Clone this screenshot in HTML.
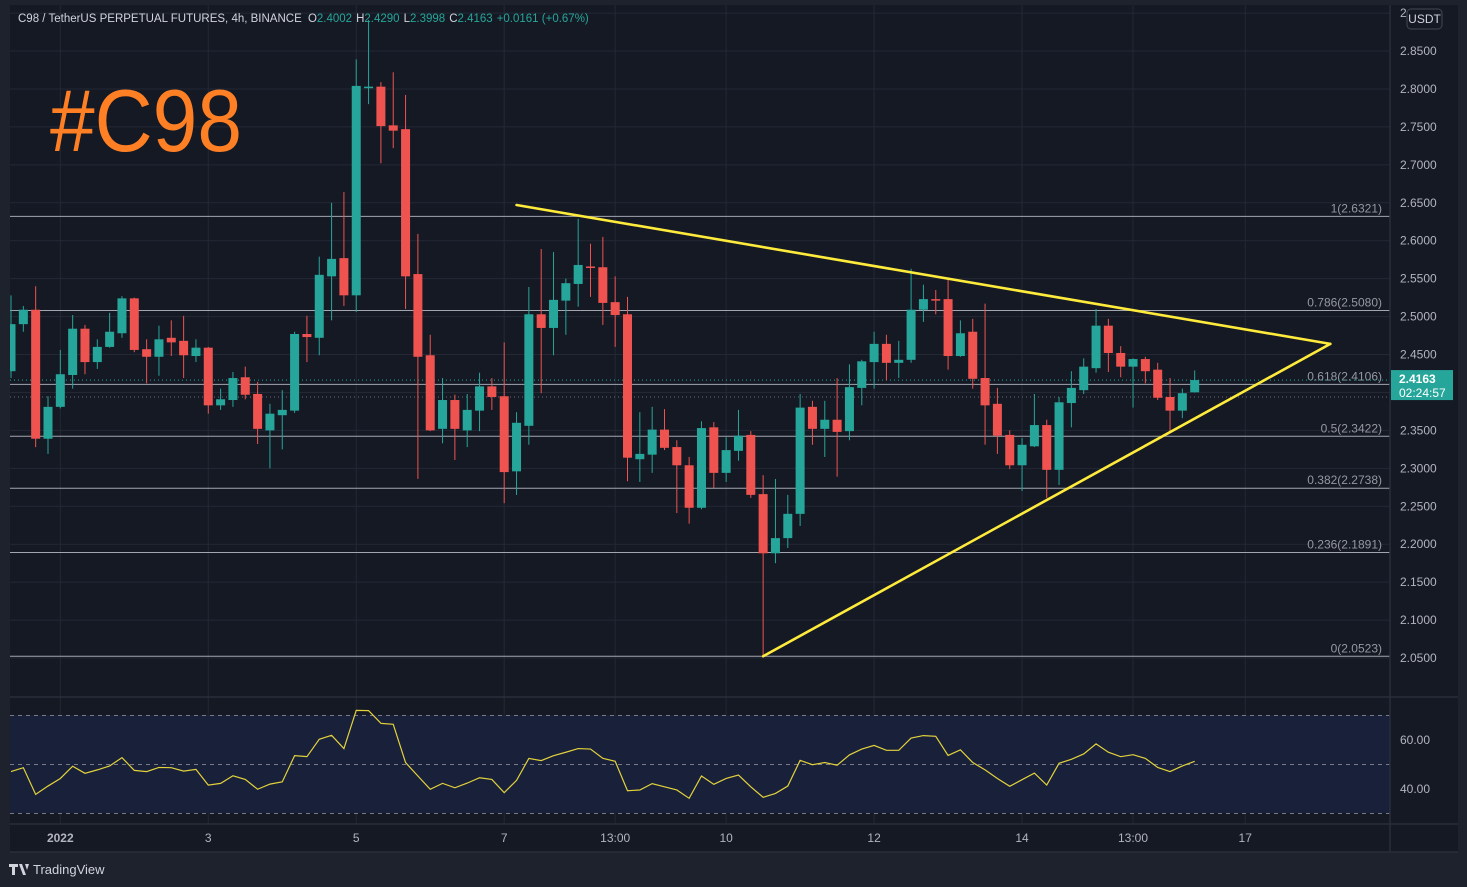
<!DOCTYPE html>
<html><head><meta charset="utf-8"><style>
html,body{margin:0;padding:0;background:#1e222d;}
svg{display:block;font-family:"Liberation Sans",sans-serif;}
</style></head><body>
<svg id="chart" width="1467" height="887" viewBox="0 0 1467 887" xmlns="http://www.w3.org/2000/svg">
<rect x="0" y="0" width="1467" height="887" fill="#1e222d"/>
<rect x="10" y="5" width="1448" height="847" fill="#151924"/>
<g id="grid"></g>
<rect x="10" y="715" width="1380" height="98" fill="#18203a"/>
<g id="fibs"></g>
<g id="candles"></g>
<g id="trend"></g>
<g id="rsi"></g>
<g id="axes"></g>
<text x="50" y="151" font-size="88" fill="#ff8024" textLength="192" lengthAdjust="spacingAndGlyphs">#C98</text>
<text x="18" y="22" font-size="11.5" fill="#d1d4dc">C98 / TetherUS PERPETUAL FUTURES, 4h, BINANCE <tspan dx="3">O</tspan><tspan fill="#26a69a">2.4002</tspan><tspan dx="4">H</tspan><tspan fill="#26a69a">2.4290</tspan><tspan dx="4">L</tspan><tspan fill="#26a69a">2.3998</tspan><tspan dx="4">C</tspan><tspan fill="#26a69a">2.4163</tspan><tspan dx="4" fill="#26a69a">+0.0161 (+0.67%)</tspan></text>
<g>
<path d="M9 864 h9 v3 h-3 v8 h-3 v-8 h-3 z M19 864 h3 l4 11 h-3 z M25 864 h4 l-2 6 z" fill="#d1d4dc"/>
<text x="33" y="874" font-size="13" fill="#d1d4dc">TradingView</text></g>
</svg>
<script>
const opens  = [2.428,2.490,2.509,2.339,2.381,2.423,2.484,2.440,2.460,2.478,2.524,2.457,2.447,2.472,2.468,2.448,2.459,2.383,2.390,2.420,2.398,2.350,2.370,2.376,2.477,2.472,2.553,2.577,2.528,2.801,2.803,2.752,2.747,2.556,2.449,2.352,2.390,2.350,2.376,2.408,2.395,2.296,2.356,2.503,2.485,2.521,2.543,2.566,2.565,2.519,2.503,2.312,2.318,2.351,2.328,2.304,2.248,2.354,2.294,2.323,2.344,2.266,2.188,2.208,2.240,2.381,2.352,2.364,2.349,2.406,2.440,2.464,2.439,2.443,2.509,2.523,2.523,2.448,2.480,2.419,2.385,2.344,2.304,2.329,2.357,2.298,2.386,2.403,2.432,2.488,2.452,2.434,2.444,2.430,2.394,2.376,2.4002];
const highs  = [2.528,2.514,2.540,2.395,2.456,2.502,2.489,2.470,2.505,2.527,2.525,2.470,2.488,2.495,2.501,2.470,2.460,2.405,2.427,2.434,2.414,2.385,2.403,2.480,2.501,2.579,2.650,2.664,2.839,2.891,2.809,2.822,2.792,2.609,2.476,2.419,2.397,2.398,2.426,2.419,2.466,2.374,2.539,2.589,2.585,2.550,2.629,2.596,2.605,2.553,2.526,2.374,2.381,2.378,2.337,2.315,2.362,2.361,2.341,2.377,2.349,2.291,2.286,2.265,2.398,2.389,2.389,2.419,2.437,2.443,2.480,2.476,2.468,2.563,2.542,2.535,2.550,2.495,2.497,2.517,2.406,2.350,2.340,2.398,2.364,2.394,2.428,2.445,2.510,2.497,2.461,2.445,2.447,2.439,2.419,2.405,2.4290];
const lows   = [2.419,2.480,2.328,2.319,2.379,2.405,2.424,2.431,2.459,2.472,2.453,2.412,2.422,2.448,2.419,2.440,2.372,2.377,2.381,2.391,2.332,2.300,2.325,2.373,2.440,2.449,2.495,2.514,2.506,2.780,2.702,2.722,2.510,2.286,2.349,2.333,2.311,2.328,2.349,2.377,2.254,2.265,2.331,2.399,2.449,2.476,2.513,2.526,2.489,2.460,2.283,2.282,2.294,2.324,2.241,2.227,2.246,2.274,2.282,2.310,2.261,2.0523,2.175,2.195,2.224,2.331,2.315,2.289,2.337,2.383,2.405,2.416,2.419,2.439,2.493,2.503,2.430,2.447,2.405,2.331,2.319,2.299,2.270,2.328,2.261,2.278,2.354,2.398,2.426,2.427,2.420,2.380,2.412,2.390,2.349,2.366,2.3998];
const closes = [2.490,2.509,2.339,2.381,2.424,2.484,2.440,2.460,2.480,2.524,2.456,2.447,2.470,2.466,2.449,2.459,2.383,2.391,2.419,2.397,2.352,2.372,2.377,2.477,2.473,2.555,2.576,2.528,2.804,2.803,2.751,2.745,2.553,2.447,2.350,2.390,2.352,2.377,2.408,2.394,2.295,2.360,2.503,2.485,2.522,2.544,2.568,2.565,2.518,2.502,2.314,2.319,2.351,2.327,2.304,2.248,2.353,2.294,2.324,2.343,2.265,2.188,2.208,2.240,2.380,2.352,2.364,2.348,2.407,2.441,2.464,2.439,2.443,2.509,2.523,2.521,2.448,2.478,2.418,2.383,2.343,2.304,2.331,2.357,2.298,2.387,2.406,2.434,2.488,2.452,2.434,2.444,2.428,2.393,2.376,2.399,2.4163];
const rsiValues = [47.1,48.7,37.8,41.2,44.3,49.3,46.4,47.8,49.4,52.8,47.6,47.1,48.8,48.7,47.3,48.0,41.6,42.3,45.4,43.9,39.9,42.0,42.9,53.6,53.2,60.3,61.9,56.5,72.1,72.0,66.8,66.4,50.8,45.3,39.9,42.3,40.5,42.4,44.6,43.9,38.5,43.5,52.5,51.6,53.6,55.0,56.5,56.3,52.5,51.3,39.3,39.6,42.2,40.9,39.6,36.2,45.3,41.9,44.3,45.7,40.9,36.6,38.2,41.2,51.7,49.9,50.8,49.7,53.9,56.3,57.8,55.8,55.8,60.8,61.8,61.5,53.7,56.0,50.8,47.8,44.3,41.1,43.8,46.5,41.6,50.5,52.1,54.3,58.4,55.0,53.2,54.0,52.5,48.8,47.1,49.4,51.3];
const fibRatios = ["1","0.786","0.618","0.5","0.382","0.236","0"];
const fibPrices = [2.6321,2.5080,2.4106,2.3422,2.2738,2.1891,2.0523];
const priceTicks = [2.05,2.10,2.15,2.20,2.25,2.30,2.35,2.40,2.45,2.50,2.55,2.60,2.65,2.70,2.75,2.80,2.85,2.90];
const timeLabels = ["2022","3","5","7","13:00","10","12","14","13:00","17"];
const timeIndex  = [4,16,28,40,49,58,70,82,91,100.1];
const trendUpper = [[41,2.647],[107,2.464]];
const trendLower = [[61,2.0523],[107,2.464]];
const rsiTicks = [60,40];
const rsiLevels = [70,50,30];
const lastPrice = 2.4163;
const prevRef = 2.394;

const NS="http://www.w3.org/2000/svg";
const X=i=>11+12.33*i;
const Y=p=>658-(p-2.05)*758.75;
const RY=v=>764.5-(v-50)*2.45;
function mk(tag,parent,attrs){const e=document.createElementNS(NS,tag);for(const k in attrs)e.setAttribute(k,attrs[k]);parent.appendChild(e);return e;}
const grid=document.getElementById('grid');
priceTicks.forEach(p=>{const l=mk('line',grid,{x1:10,x2:1390,y1:Y(p),y2:Y(p),stroke:'#242835','stroke-width':1});

});
rsiTicks.forEach(v=>{const l=mk('line',grid,{x1:10,x2:1390,y1:RY(v),y2:RY(v),stroke:'#262c40','stroke-width':1});

});
timeIndex.forEach(i=>{const l=mk('line',grid,{x1:X(i),x2:X(i),y1:5,y2:824,stroke:'#242835','stroke-width':1});

});

const fibs=document.getElementById('fibs');
fibPrices.forEach((p,k)=>{const l=mk('line',fibs,{x1:10,x2:1390,y1:Y(p),y2:Y(p),stroke:'#a3a6af','stroke-width':1});


const t=mk('text',fibs,{x:1382,y:Y(p)-4,'text-anchor':'end','font-size':12,fill:'#9598a1'});t.textContent=fibRatios[k]+'('+p.toFixed(4)+')';

});
const d1=mk('line',fibs,{x1:10,x2:1390,y1:Y(lastPrice),y2:Y(lastPrice),stroke:'#26a69a','stroke-width':1,'stroke-dasharray':'1 3'});


const d2=mk('line',fibs,{x1:10,x2:1390,y1:Y(prevRef),y2:Y(prevRef),stroke:'#6a6d78','stroke-width':1,'stroke-dasharray':'1 3'});



const cg=document.getElementById('candles');
opens.forEach((o,i)=>{const c=closes[i],up=c>=o,col=up?'#26a69a':'#ef5350',x=X(i);
const g=mk('g',cg,{});


mk('line',g,{x1:x,x2:x,y1:Y(highs[i]),y2:Y(lows[i]),stroke:col,'stroke-width':1});
const top=Y(Math.max(o,c)),bot=Y(Math.min(o,c));
mk('rect',g,{x:Math.max(10,x-4.5),y:top,width:x-4.5<10?x+4.5-10:9,height:Math.max(1.5,bot-top),fill:col});});

const tg=document.getElementById('trend');
[trendUpper,trendLower].forEach((t,k)=>{const l=mk('line',tg,{x1:X(t[0][0]),y1:Y(t[0][1]),x2:X(t[1][0]),y2:Y(t[1][1]),stroke:'#ffeb3b','stroke-width':2.6,'stroke-linecap':'round'});

});

const rg=document.getElementById('rsi');
rsiLevels.forEach(v=>{const l=mk('line',rg,{x1:10,x2:1390,y1:RY(v),y2:RY(v),stroke:'#787b86','stroke-width':1,'stroke-dasharray':'4 4'});

});
const pl=mk('polyline',rg,{points:rsiValues.map((v,i)=>X(i)+','+RY(v)).join(' '),fill:'none',stroke:'#e3d23c','stroke-width':1.2});



const ax=document.getElementById('axes');
[[10,697,1390,697],[10,824,1458,824],[1390,5,1390,852],[10,852,1458,852],[1390,697,1458,697]].forEach(a=>{const l=mk('line',ax,{x1:a[0],y1:a[1],x2:a[2],y2:a[3],stroke:'#2a2e39','stroke-width':1.5});

});
priceTicks.forEach(p=>{const t=mk('text',ax,{x:1400,y:Y(p)+4,'font-size':12,fill:'#b2b5be'});t.textContent=p.toFixed(4);

});
rsiTicks.forEach(v=>{const t=mk('text',ax,{x:1400,y:RY(v)+4,'font-size':12,fill:'#b2b5be'});t.textContent=v.toFixed(2);

});
timeLabels.forEach((s,k)=>{const t=mk('text',ax,{x:X(timeIndex[k]),y:842,'text-anchor':'middle','font-size':12,fill:'#b2b5be','font-weight':k==0?'bold':'normal'});t.textContent=s;

});
const ub=mk('rect',ax,{x:1407,y:9,width:35,height:20,rx:4,fill:'#151924',stroke:'#434651'});


const ut=mk('text',ax,{x:1424.5,y:23,'text-anchor':'middle','font-size':12,fill:'#d1d4dc'});ut.textContent='USDT';


const pb=mk('rect',ax,{x:1391,y:Y(lastPrice)-10,width:62,height:30,fill:'#26a69a'});


const pt=mk('text',ax,{x:1399,y:Y(lastPrice)+3,'font-size':12,'font-weight':'bold',fill:'#ffffff'});pt.textContent=lastPrice.toFixed(4);


const ct=mk('text',ax,{x:1399,y:Y(lastPrice)+17,'font-size':12,fill:'#ffffff'});ct.textContent='02:24:57';


</script>
</body></html>
